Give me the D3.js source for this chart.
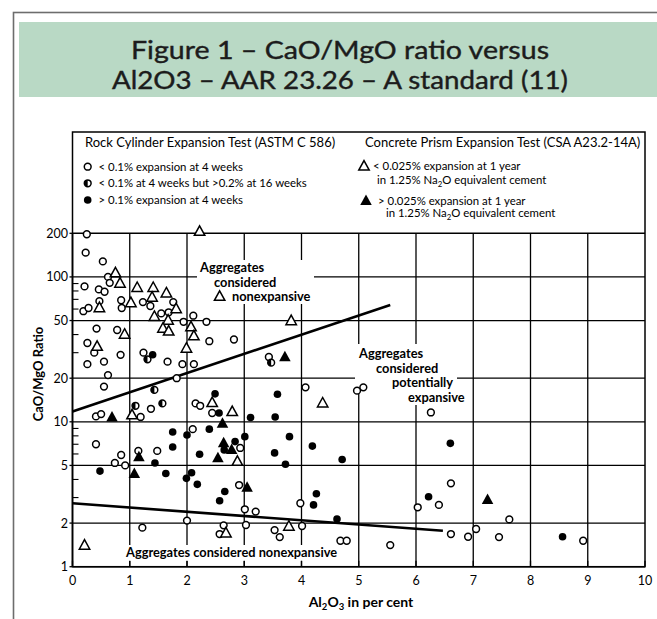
<!DOCTYPE html>
<html><head><meta charset="utf-8">
<script src="https://cdn.jsdelivr.net/npm/d3@7"></script>
<style>body{margin:0;background:#fff;} svg{display:block;}</style>
</head><body>
<svg id="c" width="657" height="619"></svg>
<script>
// ---------------- DATA ----------------
const titleLines = ["Figure 1 \u2013 CaO/MgO ratio versus", "Al2O3 \u2013 AAR 23.26 \u2013 A standard (11)"];
const xTicks = [0,1,2,3,4,5,6,7,8,9,10];
const yTicks = [1,2,5,10,20,50,100,200];
const yGrid = [2,5,10,20,50,100];
const yMinorTicks = [3,4,6,7,8,9,30,40,60,70,80,90];

// Rock cylinder test: < 0.1% at 4 weeks (open circles)
const openCircles = [
 [0.25,197],[0.23,147],[0.53,128],[0.62,100],[0.65,91],[0.21,86],[0.46,82],[0.56,79],
 [0.47,68],[0.85,69],[0.86,61],[1.23,67],[1.36,63],[1.76,67],[0.19,58],[0.28,61],
 [1.55,56],[1.68,57],[1.94,49],[2.11,54],[2.34,49],[0.42,44],[0.78,43],[2.39,36],
 [2.82,37],[0.26,35],[0.38,30],[0.84,29],[1.24,30],[0.26,25],[0.55,26],[1.66,26],
 [1.92,25],[2.12,25],[0.62,21],[1.82,20],[0.55,17.5],[2.15,13.4],[2.23,12.9],[2.44,11.5],
 [1.37,12.3],[0.41,10.9],[0.50,11.3],[1.19,10.8],[3.43,28],[4.07,17.3],[4.97,16.4],[5.08,17.3],
 [6.26,11.6],[3.98,2.74],[3.01,2.49],[3.20,2.4],[3.03,1.94],[3.53,1.79],[3.62,1.6],[4.01,1.91],
 [4.68,1.51],[4.79,1.51],[5.55,1.41],[6.03,2.57],[6.40,2.67],[6.61,3.76],[7.63,2.12],[7.05,1.82],
 [6.61,1.68],[6.91,1.61],[7.45,1.6],[8.92,1.51],[0.41,7.0],[0.74,5.2],[0.85,5.9],[0.92,5.0],
 [1.15,6.3],[1.48,6.3],[2.10,8.9],[2.93,6.6],[2.91,3.66],[2.00,2.08],[1.22,1.86],[2.64,1.93],
 [2.57,1.68]
];
// < 0.1% at 4 weeks but > 0.2% at 16 weeks (half-filled circles)
const halfCircles = [[1.31,27],[1.43,16.6],[1.57,13.4],[3.47,25.6],[1.10,12.9]];
// > 0.1% at 4 weeks (filled circles)
const filledCircles = [
 [1.40,29],[2.49,15.6],[2.56,11.5],[3.11,10.7],[3.58,15.5],[3.54,10.8],[3.01,7.9],[3.79,7.9],
 [3.53,6.1],[3.72,5.1],[4.19,6.8],[4.71,5.5],[4.26,3.19],[4.21,2.67],[4.62,2.13],[6.22,3.04],
 [6.60,7.1],[8.56,1.61],[0.48,4.57],[1.44,5.2],[1.63,4.4],[1.75,6.7],[1.75,8.5],[2.00,8.1],
 [2.39,8.9],[2.84,7.3],[2.65,6.4],[2.22,5.97],[1.99,4.07],[2.08,4.45],[2.18,3.7],[2.66,3.3],
 [2.57,2.85]
];
// Concrete prism: < 0.025% at 1 year (open triangles)
const openTriangles = [
 [2.22,205],[0.75,106],[0.83,90],[1.13,84],[1.41,84],[1.64,77],[0.47,61],[1.02,66],
 [1.39,72],[1.81,60],[1.43,53],[1.67,50],[2.07,45],[0.91,40],[1.58,44],[1.68,42],
 [2.12,39],[0.43,33],[1.99,32],[2.44,13.5],[2.79,11.7],[1.04,11.1],[3.82,49.6],[2.57,73],
 [4.37,13.4],[3.78,1.89],[2.88,5.3],[2.68,1.7],[0.21,1.4]
];
// > 0.025% at 1 year (filled triangles)
const filledTriangles = [
 [0.69,10.7],[3.71,27.9],[3.05,3.5],[7.25,2.89],[1.08,4.36],[1.16,5.7],[2.62,9.7],[2.64,7.1],
 [2.78,6.4],[2.54,5.6]
];
// Boundary lines
const upperLine = [[0,11.8],[5.55,64]];
const lowerLine = [[0,2.74],[6.47,1.77]];

// ---------------- DRAW ----------------
const svg = d3.select("#c");
const F = "Lato, 'Open Sans', 'Noto Sans', sans-serif";
const L = 72.5, R = 645, T = 233.3, B = 566.7;
const x = d3.scaleLinear().domain([0,10]).range([L,R]);
const y = d3.scaleLog().domain([1,200]).range([B,T]);

// outer frame and banner
svg.append("rect").attr("x",13.5).attr("y",12.5).attr("width",700).attr("height",700)
  .attr("fill","none").attr("stroke","#6d6d6d").attr("stroke-width",1.6);
svg.append("rect").attr("x",19).attr("y",22).attr("width",650).attr("height",75).attr("fill","#b9d9c5");
titleLines.forEach((t,i)=>{
  svg.append("text").attr("x",340).attr("y",i===0?59:89).attr("text-anchor","middle")
    .attr("font-family",F).attr("font-size",25).attr("fill","#1c1c1c")
    .attr("stroke","#1c1c1c").attr("stroke-width",0.4)
    .attr("textLength", i===0?418:456).attr("lengthAdjust","spacingAndGlyphs")
    .text(t);
});

// chart box
const boxTop = 132;
svg.append("rect").attr("x",L).attr("y",boxTop).attr("width",R-L).attr("height",B-boxTop)
  .attr("fill","none").attr("stroke","#000").attr("stroke-width",1.5);
svg.append("line").attr("x1",L).attr("x2",R).attr("y1",T).attr("y2",T).attr("stroke","#000").attr("stroke-width",1.5);

// grid
const g = svg.append("g");
g.selectAll(".vg").data(xTicks.slice(1,-1)).join("line")
  .attr("x1",d=>x(d)).attr("x2",d=>x(d)).attr("y1",T).attr("y2",B).attr("stroke","#000").attr("stroke-width",1.3);
g.selectAll(".hg").data(yGrid).join("line")
  .attr("x1",L).attr("x2",R).attr("y1",d=>y(d)).attr("y2",d=>y(d)).attr("stroke","#000").attr("stroke-width",1.3);

// knockouts behind annotation text
const ko = [
  [197,260,117,44],
  [355,344,75,18],[355,360,88,16],[355,375,102,16],[405,390,62,15],
  [123,545,218,16]
];
ko.forEach(r=>svg.append("rect").attr("x",r[0]).attr("y",r[1]).attr("width",r[2]).attr("height",r[3]).attr("fill","#fff"));

// ticks
svg.selectAll(".xt").data(xTicks).join("line")
  .attr("x1",d=>x(d)).attr("x2",d=>x(d)).attr("y1",B).attr("y2",B-6).attr("stroke","#000").attr("stroke-width",1.3);
svg.selectAll(".ymt").data(yMinorTicks).join("line")
  .attr("x1",L).attr("x2",L+6).attr("y1",d=>y(d)).attr("y2",d=>y(d)).attr("stroke","#000").attr("stroke-width",1.1);
svg.selectAll(".yot").data(yTicks).join("line")
  .attr("x1",L-3).attr("x2",L).attr("y1",d=>y(d)).attr("y2",d=>y(d)).attr("stroke","#000").attr("stroke-width",1.3);
svg.append("line").attr("x1",L).attr("x2",L).attr("y1",T).attr("y2",B).attr("stroke","#000").attr("stroke-width",1.6);
svg.append("line").attr("x1",L).attr("x2",R).attr("y1",B).attr("y2",B).attr("stroke","#000").attr("stroke-width",1.6);

// tick labels
svg.selectAll(".xl").data(xTicks).join("text")
  .attr("x",d=>x(d)).attr("y",585).attr("text-anchor","middle").attr("font-family",F).attr("font-size",12.5)
  .text(d=>d);
svg.selectAll(".yl").data(yTicks).join("text")
  .attr("x",68).attr("y",d=>y(d)+4.5).attr("text-anchor","end").attr("font-family",F).attr("font-size",12.5)
  .text(d=>d);

// axis titles
const xt = svg.append("text").attr("x",361).attr("y",607).attr("text-anchor","middle")
  .attr("font-family",F).attr("font-weight","bold").attr("font-size",14);
xt.append("tspan").text("Al");
xt.append("tspan").attr("font-size",9.5).attr("dy",3).text("2");
xt.append("tspan").attr("dy",-3).text("O");
xt.append("tspan").attr("font-size",9.5).attr("dy",3).text("3");
xt.append("tspan").attr("dy",-3).text(" in per cent");
svg.append("text").attr("transform","translate(43,374) rotate(-90)").attr("text-anchor","middle")
  .attr("font-family",F).attr("font-weight","bold").attr("font-size",13).text("CaO/MgO Ratio");

// boundary lines
const line = d3.line().x(d=>x(d[0])).y(d=>y(d[1]));
[upperLine, lowerLine].forEach(l=>svg.append("path").attr("d",line(l)).attr("fill","none")
  .attr("stroke","#000").attr("stroke-width",2.6));

// markers
const tri = (s)=>`M0,${-s*0.62}L${s*0.55},${s*0.38}L${-s*0.55},${s*0.38}Z`;
const mk = svg.append("g");
function openC(sel){ sel.append("circle").attr("r",3.4).attr("fill","#fff").attr("stroke","#000").attr("stroke-width",1.5); }
function halfC(sel){ sel.append("circle").attr("r",3.4).attr("fill","#fff").attr("stroke","#000").attr("stroke-width",1.5);
  sel.append("path").attr("d","M0,-3.4A3.4,3.4 0 0,0 0,3.4Z").attr("fill","#000"); }
function fillC(sel){ sel.append("circle").attr("r",3.8).attr("fill","#000"); }
function openT(sel){ sel.append("path").attr("d",tri(9.5)).attr("fill","#fff").attr("stroke","#000").attr("stroke-width",1.5); }
function fillT(sel){ sel.append("path").attr("d",tri(10.5)).attr("fill","#000"); }
function plot(data, fn){
  mk.selectAll(null).data(data).join("g").attr("transform",d=>`translate(${x(d[0])},${y(d[1])})`).each(function(){ fn(d3.select(this)); });
}
plot(openCircles, openC);
plot(halfCircles, halfC);
plot(filledCircles, fillC);
plot(openTriangles, openT);
plot(filledTriangles, fillT);

// annotations
const ann = [
  ["Aggregates",200,272],["considered",214,287],["nonexpansive",232,301],
  ["Aggregates",359,358],["considered",376,373],["potentially",392,387],["expansive",408,402],
  ["Aggregates considered nonexpansive",126,557]
];
ann.forEach(a=>svg.append("text").attr("x",a[1]).attr("y",a[2]).attr("font-family",F)
  .attr("font-weight","bold").attr("font-size",12.8).text(a[0]));

// legend
const lg = svg.append("g").attr("font-family",F).attr("fill","#000");
lg.append("text").attr("x",85).attr("y",147).attr("font-size",13).text("Rock Cylinder Expansion Test (ASTM C 586)");
lg.append("text").attr("x",365).attr("y",147).attr("font-size",13).text("Concrete Prism Expansion Test (CSA A23.2-14A)");
const legL = [
  [openC,"< 0.1% expansion at 4 weeks",166.7],
  [halfC,"< 0.1% at 4 weeks but >0.2% at 16 weeks",183.3],
  [fillC,"> 0.1% expansion at 4 weeks",200]
];
legL.forEach(e=>{
  e[0](lg.append("g").attr("transform",`translate(87.7,${e[2]})`));
  lg.append("text").attr("x",98.5).attr("y",e[2]+4).attr("font-size",11.4).text(e[1]);
});
openT(lg.append("g").attr("transform","translate(364,166.5)"));
fillT(lg.append("g").attr("transform","translate(366,201)"));
lg.append("text").attr("x",373).attr("y",170).attr("font-size",11.4).text("< 0.025% expansion at 1 year");
lg.append("text").attr("x",378).attr("y",204.5).attr("font-size",11.4).text("> 0.025% expansion at 1 year");
[[377,184],[386,217]].forEach(p=>{
  const t = lg.append("text").attr("x",p[0]).attr("y",p[1]).attr("font-size",11.4);
  t.append("tspan").text("in 1.25% Na");
  t.append("tspan").attr("font-size",7.8).attr("dy",2.5).text("2");
  t.append("tspan").attr("dy",-2.5).text("O equivalent cement");
});
</script>
</body></html>
